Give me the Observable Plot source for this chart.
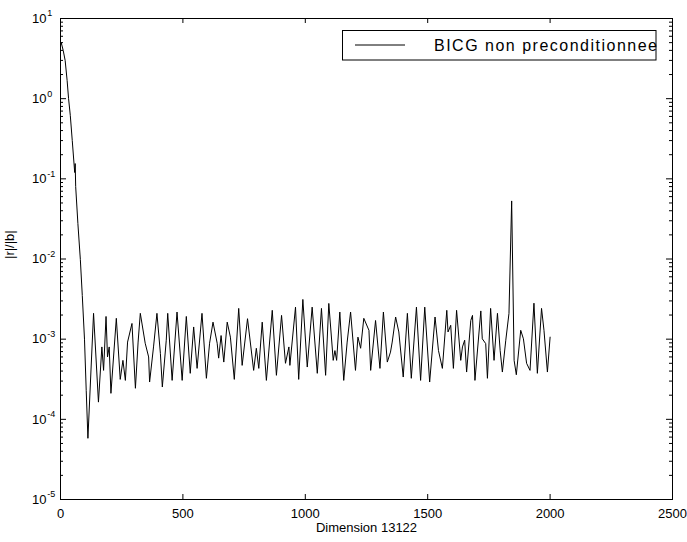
<!DOCTYPE html>
<html><head><meta charset="utf-8">
<script src="https://cdn.jsdelivr.net/npm/d3@7"></script>
<script src="https://cdn.jsdelivr.net/npm/@observablehq/plot@0.6"></script>
<style>body{margin:0;background:#fff;} svg{display:block}</style>
</head><body><div id="chart"></div>
<script>
const iterations = [0,3,11,19,27,33,40,48,58,60,62,71,81,89,98,105,112,
135,155,169,176,186,192,199,206,228,244,255,265,274,292,306,317,326,346,360,364,380,394,408,416,432,438,456,476,497,514,530,544,558,578,596,609,623,640,646,656,667,681,694,710,728,742,764,789,800,810,824,841,865,882,903,919,933,937,960,973,990,1008,1028,1049,1066,1083,1096,1114,1121,1128,1141,1157,1171,1185,1205,1215,1226,1239,1260,1267,1287,1305,1319,1335,1348,1355,1369,1382,1400,1417,1433,1454,1471,1488,1508,1530,1544,1560,1578,1583,1594,1605,1618,1635,1642,1651,1659,1676,1683,1693,1717,1723,1737,1744,1757,1771,1785,1796,1805,1819,1832,1843,1853,1862,1880,1891,1904,1918,1934,1948,1965,1975,1989,2000];
const residuals = [4.6,5.0,4.0,3.0,1.69,1.0,0.62,0.30,0.12,0.155,0.080,0.0278,9.9e-3,3.5e-3,1.0e-3,2.3e-4,5.8e-5,
2.10e-3,1.64e-4,8.0e-4,4.08e-4,1.92e-3,6.0e-4,8.0e-4,2.11e-4,1.82e-3,3.15e-4,5.44e-4,3.06e-4,9.2e-4,1.57e-3,2.44e-4,9.2e-4,2.10e-3,8.9e-4,6.0e-4,2.92e-4,8.0e-4,2.10e-3,6.65e-4,2.53e-4,9.7e-4,2.10e-3,3.06e-4,2.18e-3,3.06e-4,1.92e-3,3.75e-4,1.42e-3,4.32e-4,2.10e-3,3.25e-4,8.9e-4,1.63e-3,8.9e-4,5.8e-4,1.11e-3,5.18e-4,1.63e-3,1.06e-3,3.15e-4,2.42e-3,4.71e-4,1.8e-3,4.08e-4,7.7e-4,4.32e-4,1.63e-3,3.06e-4,2.29e-3,3.54e-4,1.98e-3,5.0e-4,8.0e-4,4.71e-4,2.51e-3,3.15e-4,3.13e-3,4.49e-4,2.51e-3,3.75e-4,2.42e-3,3.54e-4,2.79e-3,5.44e-4,7.2e-4,5.44e-4,2.18e-3,3.06e-4,9.2e-4,2.18e-3,4.08e-4,1.06e-3,7.7e-4,1.82e-3,1.29e-3,4.08e-4,1.71e-3,4.32e-4,2.18e-3,5.18e-4,6.9e-4,9.2e-4,1.89e-3,1.23e-3,3.37e-4,2.10e-3,3.25e-4,2.51e-3,3.06e-4,2.51e-3,2.92e-4,1.89e-3,7.2e-4,4.32e-4,2.29e-3,1.23e-3,1.49e-3,4.32e-4,2.29e-3,5.44e-4,8.0e-4,9.7e-4,3.89e-4,1.71e-3,1.98e-3,3.06e-4,2.25e-3,1.01e-3,8.8e-4,3.25e-4,2.42e-3,5.44e-4,2.10e-3,7.2e-4,3.89e-4,9.7e-4,2.10e-3,5.3e-2,5.44e-4,3.6e-4,1.29e-3,1.01e-3,5.0e-4,4.08e-4,2.81e-3,3.75e-4,2.42e-3,1.29e-3,3.89e-4,1.06e-3];
const xTicks = [0, 500, 1000, 1500, 2000, 2500];
const yMajor = [1e-5, 1e-4, 1e-3, 1e-2, 1e-1, 1, 10];
const yMinor = yMajor.slice(0, -1).flatMap(d => [2,3,4,5,6,7,8,9].map(m => m * d));
const seriesName = "BICG non preconditionnee";
const xLabel = "Dimension 13122";
const yLabel = "|r|/|b|";

const data = iterations.map((it, i) => ({it, r: residuals[i]}));

const W = 687, H = 542, mL = 60, mR = 15, mT = 18, mB = 43;
const pw = W - mL - mR, ph = H - mT - mB;

const chart = Plot.plot({
  width: W, height: H,
  marginLeft: mL, marginRight: mR, marginTop: mT, marginBottom: mB,
  x: {domain: [0, 2500], axis: null},
  y: {type: "log", domain: [1e-5, 10], axis: null},
  style: {fontFamily: "'Liberation Sans', Arial, sans-serif", fontSize: "13px", color: "black", background: "white"},
  marks: [
    Plot.frame({stroke: "black", strokeWidth: 1}),
    // inward ticks on all four sides
    Plot.tickX(xTicks, {x: d => d, insetTop: ph - 5, stroke: "black"}),
    Plot.tickX(xTicks, {x: d => d, insetBottom: ph - 5, stroke: "black"}),
    Plot.tickY(yMajor, {y: d => d, insetRight: pw - 6, stroke: "black"}),
    Plot.tickY(yMinor, {y: d => d, insetRight: pw - 3, stroke: "black"}),
    Plot.tickY(yMajor, {y: d => d, insetLeft: pw - 6, stroke: "black"}),
    Plot.tickY(yMinor, {y: d => d, insetLeft: pw - 3, stroke: "black"}),
    Plot.axisX({ticks: xTicks, tickSize: 0, tickPadding: 9, tickFormat: d => String(d), label: null}),
    Plot.text(yMajor, {y: d => d, text: () => "10", frameAnchor: "left", textAnchor: "end", dx: -14, fontSize: 13}),
    Plot.text(yMajor, {y: d => d, text: d => String(Math.round(Math.log10(d))), frameAnchor: "left", textAnchor: "start", dx: -13.2, dy: -5, fontSize: 9}),
    Plot.text([xLabel], {text: d => d, frameAnchor: "bottom", dy: 32, fontSize: 13}),
    Plot.text([yLabel], {text: d => d, frameAnchor: "left", dx: -51, rotate: -90, fontSize: 13}),
    Plot.line(data, {x: "it", y: "r", stroke: "black", strokeWidth: 1})
  ]
});

const svg = d3.select(chart);
const g = svg.append("g").attr("aria-label", "legend");
g.append("rect").attr("x", 342.5).attr("y", 30.5).attr("width", 313.5).attr("height", 29.5)
  .attr("fill", "white").attr("stroke", "black");
g.append("line").attr("x1", 355).attr("x2", 405).attr("y1", 45).attr("y2", 45).attr("stroke", "black");
g.append("text").attr("x", 434).attr("y", 50.5).attr("font-size", 16).attr("text-anchor", "start")
  .attr("textLength", 223).attr("lengthAdjust", "spacing").text(seriesName);

document.getElementById("chart").appendChild(chart);
</script>
</body></html>
